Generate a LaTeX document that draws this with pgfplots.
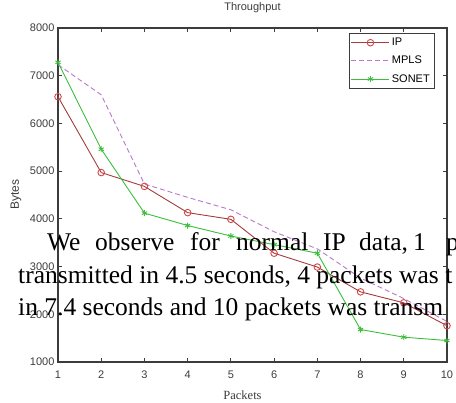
\documentclass[border=0pt]{standalone}
\usepackage{pgfplots}
\pgfplotsset{compat=1.18}
\usepackage{fontspec}
\setmainfont{Liberation Serif}
\newfontfamily\plotfont{Liberation Sans}
\definecolor{ipred}{RGB}{165,60,60}
\definecolor{ipmark}{RGB}{210,70,70}
\definecolor{mplsc}{RGB}{185,120,205}
\definecolor{sonetc}{RGB}{60,190,60}
\definecolor{axgray}{RGB}{60,60,60}
\begin{document}
\begin{tikzpicture}
\useasboundingbox (0,0) rectangle (456pt,403pt);
\begin{axis}[
  at={(58pt,41pt)}, anchor=south west,
  scale only axis, width=389pt, height=334pt,
  xmin=1, xmax=10, ymin=1000, ymax=8000,
  xtick={1,...,10}, ytick={1000,2000,...,8000},
  tick align=inside, major tick length=4pt,
  axis line style={axgray, line width=1.2pt},
  tick style={axgray, line width=0.8pt},
  /pgf/number format/assume math mode=true,
  /pgf/number format/set thousands separator={},
  ticklabel style={font=\plotfont\fontsize{11}{12}\selectfont, text=axgray},
  xticklabel style={anchor=center, yshift=-13pt},
  title={\plotfont\fontsize{11}{12}\selectfont Throughput},
  title style={at={(0.5,1)}, anchor=center, yshift=14pt, text=axgray},
  xlabel={\fontsize{12.5}{13}\selectfont Packets},
  xlabel style={at={(0.5,0)}, anchor=center, yshift=-33pt, xshift=-10pt, text=axgray},
  ylabel={\plotfont\fontsize{12}{13}\selectfont Bytes},
  ylabel style={at={(0,0.5)}, anchor=center, yshift=42pt, text=axgray},
  legend style={at={(1,1)}, anchor=north east, xshift=-13pt, yshift=-5pt,
    font=\plotfont\fontsize{11}{12}\selectfont, draw=axgray, fill=white,
    inner xsep=2pt, inner ysep=3pt, row sep=5pt},
  legend cell align=left,
  legend image code/.code={\draw[mark repeat=2, mark phase=2, #1] plot coordinates {(0pt,0pt) (19pt,0pt) (38pt,0pt)};},
]
\addplot[ipred, line width=0.9pt, mark=o, mark size=3.3pt, mark options={ipmark, solid, fill=none}] coordinates {
  (1,6560) (2,4970) (3,4680) (4,4130) (5,3990) (6,3280) (7,2990) (8,2470) (9,2240) (10,1760)};
\addlegendentry{IP}
\addplot[mplsc, line width=0.9pt, dash pattern=on 5pt off 3pt] coordinates {
  (1,7230) (2,6600) (3,4730) (4,4450) (5,4190) (6,3730) (7,3370) (8,2760) (9,2330) (10,1850)};
\addlegendentry{MPLS}
\addplot[sonetc, line width=0.9pt, mark=asterisk, mark size=3pt, mark options={solid}] coordinates {
  (1,7280) (2,5460) (3,4120) (4,3860) (5,3640) (6,3460) (7,3280) (8,1680) (9,1520) (10,1450)};
\addlegendentry{SONET}
\end{axis}
\begin{scope}[every node/.style={inner sep=0pt, anchor=base west, font=\fontsize{25.5}{30}\selectfont}]
\node at (47pt,152pt) {We};
\node at (95pt,152pt) {observe};
\node at (190pt,152pt) {for};
\node at (236pt,152pt) {normal};
\node at (323pt,152pt) {IP};
\node at (359pt,152pt) {data,};
\node at (413pt,152pt) {1};
\node at (446pt,152pt) {p};
\node at (18pt,119pt) {transmitted in 4.5 seconds, 4 packets was t};
\node at (18pt,87pt) {in 7.4 seconds and 10 packets was transm};
\end{scope}
\end{tikzpicture}
\end{document}
